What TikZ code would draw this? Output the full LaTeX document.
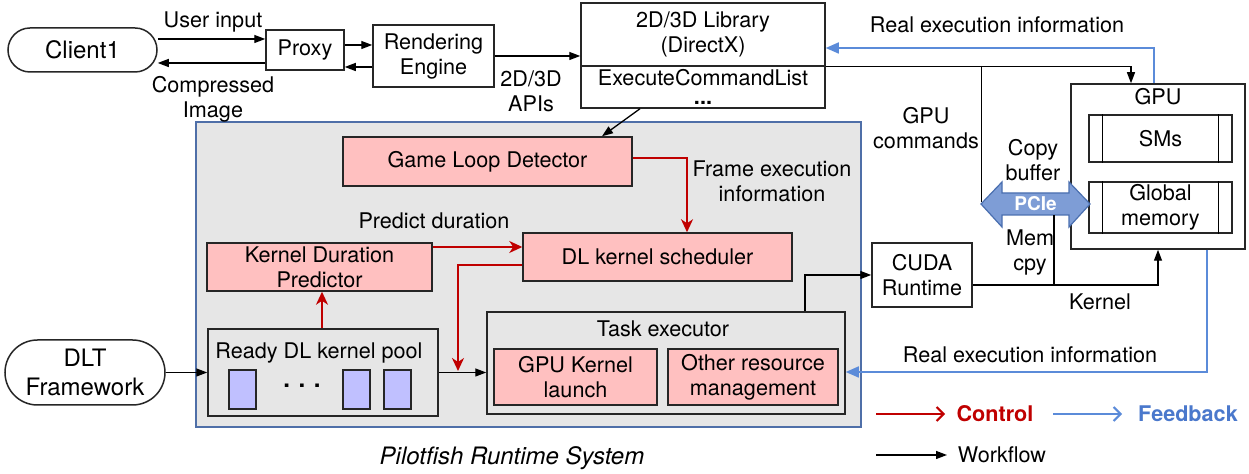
\documentclass[tikz,border=0pt]{standalone}
\usepackage{fontspec}
\setmainfont{TeX Gyre Heros}
\usetikzlibrary{arrows.meta,calc}
\definecolor{cred}{HTML}{C00000}
\definecolor{cblue}{HTML}{5B8BD9}
\definecolor{cbluetext}{HTML}{4A78CC}
\definecolor{cpink}{HTML}{FFC0C0}
\definecolor{cgray}{HTML}{E6E6E6}
\definecolor{cpanel}{HTML}{4F6FA8}
\definecolor{ckern}{HTML}{C0C0FF}
\definecolor{cpcie}{HTML}{7E9DD6}
\definecolor{cpcieline}{HTML}{4A6FB0}
\begin{document}
\begin{tikzpicture}[x=0.5pt,y=-0.5pt,
  every node/.style={font=\fontsize{10.8}{12.5}\selectfont, inner sep=0pt, align=center},
  box/.style={draw=black!85, line width=0.75pt},
  pinkbox/.style={box, fill=cpink},
  graybox/.style={box, fill=cgray},
  bigtxt/.style={font=\fontsize{12}{14.5}\selectfont},
  wf/.style={draw=black, line width=0.65pt, -{Triangle[length=5.5pt,width=4pt]}},
  plainline/.style={draw=black, line width=0.65pt},
  ctrl/.style={draw=cred, line width=1pt, -{Stealth[length=6.5pt,width=6pt,inset=2pt]}},
  fb/.style={draw=cblue, line width=0.8pt, -{Triangle[length=6.5pt,width=5.5pt]}},
  legctrl/.style={draw=cred, line width=1pt, -{Straight Barb[length=3.5pt,width=7pt]}},
  legfb/.style={draw=cblue, line width=1pt, -{Straight Barb[length=3.5pt,width=7pt]}},
]
\fill[white] (0,0) rectangle (1249,474);
\useasboundingbox (0,0) rectangle (1249,474);

% panel
\node[draw=cpanel, line width=0.7pt, fill=cgray, minimum width=332.5pt, minimum height=152.5pt] (panel) at (528.5,274.5) {};
\node[font=\fontsize{12}{14}\selectfont\itshape] (paneltitle) at (512,458) {Pilotfish Runtime System};

% top row
\node[box, rounded corners=11pt, minimum width=74.5pt, minimum height=22pt, bigtxt] (client) at (82.5,50) {Client1};
\node[box, minimum width=39pt, minimum height=20pt] (proxy) at (305,50) {Proxy};
\node[box, minimum width=60.5pt, minimum height=31pt] (render) at (433.5,56) {Rendering\\Engine};
\node[box, minimum width=122pt, minimum height=31.5pt] (libtop) at (703,34.5) {2D/3D Library\\(DirectX)};
\node[box, minimum width=122pt, minimum height=21pt] (libbot) at (703,87) {ExecuteCommandList\\[-3pt]\textbf{...}};

% GPU
\node[box, minimum width=87pt, minimum height=82.5pt] (gpu) at (1158,166.5) {};
\node (gpulbl) at (1158,97) {GPU};
\node[box, minimum width=71.5pt, minimum height=23.5pt] (sms) at (1160.5,138.5) {SMs};
\node[box, minimum width=71.5pt, minimum height=25.5pt] (gmem) at (1160.5,207.5) {Global\\memory};
\foreach \n in {sms,gmem}{
  \draw[line width=0.6pt] ([xshift=7pt]\n.north west) -- ([xshift=7pt]\n.south west);
  \draw[line width=0.6pt] ([xshift=-7pt]\n.north east) -- ([xshift=-7pt]\n.south east);
}

% inner boxes
\node[pinkbox, minimum width=144.5pt, minimum height=24.5pt] (gld) at (487.5,161.5) {Game Loop Detector};
\node[pinkbox, minimum width=134.5pt, minimum height=24pt] (dls) at (657.5,257) {DL kernel scheduler};
\node[pinkbox, minimum width=112.5pt, minimum height=24pt] (kdp) at (319.5,267) {Kernel Duration\\Predictor};
\node[graybox, minimum width=115pt, minimum height=43.5pt] (pool) at (323,372.5) {};
\node (poollbl) at (319,353) {Ready DL kernel pool};
\node[box, fill=ckern, minimum width=13.5pt, minimum height=19.5pt] (k1) at (242.5,389.5) {};
\node[box, fill=ckern, minimum width=13.5pt, minimum height=19.5pt] (k2) at (356.5,389.5) {};
\node[box, fill=ckern, minimum width=13.5pt, minimum height=19.5pt] (k3) at (397.5,389.5) {};
\node[font=\fontsize{12}{14}\selectfont\bfseries] (dots) at (302,386) {.\hspace{4.3pt}.\hspace{4.3pt}.};

\node[box, rounded corners=16.25pt, fill=white, minimum width=80pt, minimum height=32.5pt, bigtxt] (dlt) at (85,372.5) {DLT\\Framework};

\node[graybox, minimum width=179pt, minimum height=51pt] (task) at (666,363) {};
\node (tasklbl) at (663,329) {Task executor};
\node[pinkbox, minimum width=81.5pt, minimum height=28pt] (gkl) at (575.5,377) {GPU Kernel\\launch};
\node[pinkbox, minimum width=85pt, minimum height=28pt] (orm) at (753,377) {Other resource\\management};

\node[box, fill=white, minimum width=50pt, minimum height=32pt] (cuda) at (922,275) {CUDA\\Runtime};

% PCIe arrow
\filldraw[fill=cpcie, draw=cpcieline, line width=0.6pt]
  (981,204) -- (1002,182) -- (1002,193) -- (1069,193) -- (1069,182) -- (1090,204)
  -- (1069,227) -- (1069,215) -- (1002,215) -- (1002,227) -- cycle;
\node[text=white, font=\fontsize{9.5}{11}\selectfont\bfseries] (pcielbl) at (1035.5,204) {PCIe};
\coordinate (pcieL) at (981.5,202);
\coordinate (pcieB) at (1054,215);
\coordinate (gcTop) at (981.5,66);
\coordinate (mcB) at (1054,285);
\coordinate (redend) at (458,371);

% labels
\node (l1) at (213,22) {User input};
\node (l2) at (213,99) {Compressed\\Image};
\node (l3) at (531,91) {2D/3D\\APIs};
\node (l4) at (997,25) {Real execution information};
\node (l5) at (926,128) {GPU\\commands};
\node (l6) at (1033,160) {Copy\\buffer};
\node (l7) at (1030,252) {Mem\\cpy};
\node (l8) at (1100,302) {Kernel};
\node (l9) at (1030,355) {Real execution information};
\node (l10) at (772,181) {Frame execution\\information};
\node (l11) at (434,221) {Predict duration};

% workflow connectors
\draw[wf] ([yshift=5.5pt]client.east) -- ([yshift=5.5pt]proxy.west);
\draw[wf] ([yshift=-6.5pt]proxy.west) -- ([yshift=-6.5pt]client.east);
\draw[wf] ([yshift=2.5pt]proxy.east) -- ([yshift=2.5pt]proxy.east -| render.west);
\draw[wf] ([yshift=-5.5pt]render.west) -- ([yshift=-5.5pt]render.west -| proxy.east);
\draw[wf] (render.east) -- (render.east -| libtop.west);
\draw[wf] ([xshift=-31.5pt]libbot.south) -- ([xshift=57.25pt]gld.north);
\draw[wf] (libtop.south east) -| ([xshift=-13.5pt]gpu.north);
\draw[plainline] (gcTop) -- (pcieL);
\draw[wf] (dlt.east) -- (dlt.east -| pool.west);
\draw[wf] (pool.east) -- (pool.east -| task.west);
\draw[wf] ([xshift=69.5pt]task.north) |- (cuda.west);
\draw[wf] ([yshift=-5pt]cuda.east) -| (gpu.south);
\draw[plainline] (mcB) -- (pcieB);

% control connectors
\draw[ctrl] ([yshift=1.75pt]gld.east) -| ([xshift=14.75pt]dls.north);
\draw[ctrl] ([yshift=10pt]kdp.east) -- ([yshift=10pt]kdp.east -| dls.west);
\draw[ctrl] ([yshift=-4pt]dls.west) -| (redend);
\draw[ctrl] ([xshift=-0.5pt]pool.north) -- ([xshift=-0.5pt]pool.north |- kdp.south);

% feedback connectors
\draw[fb] ([xshift=-2pt]gpu.north) |- ([yshift=-6.75pt]libtop.east);
\draw[fb] ([xshift=24.5pt]gpu.south) |- ([yshift=-4.5pt]task.east);

% legend
\coordinate (lc1) at (876,414); \coordinate (lc2) at (945,414);
\coordinate (lf1) at (1053,414); \coordinate (lf2) at (1122,414);
\coordinate (lw1) at (876,455); \coordinate (lw2) at (947,455);
\draw[legctrl] (lc1) -- (lc2);
\draw[legfb] (lf1) -- (lf2);
\draw[wf] (lw1) -- (lw2);
\node[text=cred, font=\fontsize{10.8}{12.5}\selectfont\bfseries] (legc) at (995,414) {Control};
\node[text=cbluetext, font=\fontsize{10.8}{12.5}\selectfont\bfseries] (legf) at (1188,414) {Feedback};
\node (legw) at (1002,455) {Workflow};
\end{tikzpicture}
\end{document}
